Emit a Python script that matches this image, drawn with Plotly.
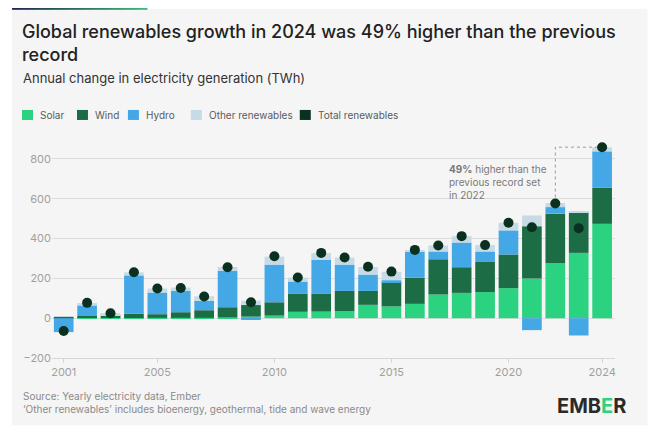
import plotly.graph_objects as go

# Annual change in electricity generation (TWh)
years = list(range(2001, 2025))
solar = [0, 1, 1, 1, 2, 2, 2, 5, 8, 13, 32, 33, 35, 67, 59, 72, 119, 127, 131, 151, 199, 276, 328, 474]
wind = [7, 13, 13, 22, 18, 28, 38, 50, 58, 67, 92, 89, 102, 70, 122, 131, 177, 129, 154, 169, 263, 249, 204, 182]
hydro = [-70, 50, 1, 192, 109, 107, 47, 182, -8, 189, 60, 172, 132, 82, 10, 132, 39, 124, 50, 121, -60, 33, -87, 182]
other = [0, 12, 10, 15, 20, 17, 23, 20, 22, 40, 20, 33, 35, 38, 42, 8, 30, 32, 33, 38, 54, 20, 5, 20]
total = [-64, 77, 25, 231, 149, 152, 109, 256, 80, 311, 204, 328, 305, 258, 234, 343, 365, 412, 367, 479, 457, 576, 452, 859]

y_ticks = [-200, 0, 200, 400, 600, 800]
x_ticks = [2001, 2005, 2010, 2015, 2020, 2024]

series = [
    ("Solar", solar, "#2bd27f"),
    ("Wind", wind, "#1c6c45"),
    ("Hydro", hydro, "#45a8e6"),
    ("Other renewables", other, "#c6dbe5"),
]
dot_color = "#0a3120"

# the page puts the figure 8px in from the corner, so work in page pixels and shift
OFF = 8
W, H = 657 - OFF, 436 - OFF
ML, MR, MT, MB = 52 - OFF, 41.5, 141 - OFF, 78.3
PW, PH = W - ML - MR, H - MT - MB


def px(x):
    return (x - OFF - ML) / PW


def py(y):
    return (H - MB - (y - OFF)) / PH


fig = go.Figure()

for name, vals, col in series:
    fig.add_trace(go.Bar(x=years, y=vals, name=name, marker=dict(color=col, line=dict(width=0))))

# dashed guide from the 2022 record up to the 2024 level
i22, i24 = years.index(2022), years.index(2024)
fig.add_trace(
    go.Scatter(
        x=[2022, 2022, 2024],
        y=[total[i22], total[i24], total[i24]],
        mode="lines",
        line=dict(color="#9a9a9a", width=1, dash="dot"),
        hoverinfo="skip",
    )
)

fig.add_trace(
    go.Scatter(
        x=years,
        y=total,
        mode="markers",
        name="Total renewables",
        marker=dict(color=dot_color, size=10),
    )
)

shapes = []
# grey card
shapes.append(dict(type="rect", xref="paper", yref="paper", x0=px(12), x1=px(648),
                   y0=py(425), y1=py(9), fillcolor="#f5f5f5", line=dict(width=0), layer="below"))
# thin gradient strip on top of the card
n = 24
c0, c1 = (0x1d, 0x2a, 0x4e), (0x3d, 0xb8, 0x76)
for k in range(n):
    t = k / (n - 1)
    r, g, b = [int(a + (bb - a) * t) for a, bb in zip(c0, c1)]
    x0 = 12 + (147 - 12) * k / n
    x1 = 12 + (147 - 12) * (k + 1) / n + 0.5
    shapes.append(dict(type="rect", xref="paper", yref="paper", x0=px(x0), x1=px(x1),
                       y0=py(10), y1=py(7), fillcolor=f"rgb({r},{g},{b})", line=dict(width=0)))

# custom legend
legend_items = [(s[0], s[2]) for s in series] + [("Total renewables", dot_color)]
legend_x = [22, 77, 128, 191, 300]
annotations = []
for (name, col), lx in zip(legend_items, legend_x):
    shapes.append(dict(type="rect", xref="paper", yref="paper", x0=px(lx), x1=px(lx + 11),
                       y0=py(120), y1=py(110), fillcolor=col, line=dict(width=0)))
    annotations.append(dict(text=name, xref="paper", yref="paper", x=px(lx + 16), y=py(115),
                            xanchor="left", yanchor="middle", showarrow=False,
                            font=dict(size=10, color="#5a5a5a")))

annotations += [
    dict(text="Global renewables growth in 2024 was 49% higher than the previous<br>record",
         xref="paper", yref="paper", x=px(20), y=py(19), xanchor="left", yanchor="top",
         align="left", showarrow=False,
         font=dict(size=18, color="#222222", family="Inter", weight=500)),
    dict(text="Annual change in electricity generation (TWh)",
         xref="paper", yref="paper", x=px(21), y=py(78), xanchor="left", yanchor="middle",
         showarrow=False, font=dict(size=13, color="#333333")),
    dict(text="Source: Yearly electricity data, Ember<br>\u2018Other renewables\u2019 includes bioenergy, geothermal, tide and wave energy",
         xref="paper", yref="paper", x=px(21), y=py(402), xanchor="left", yanchor="middle",
         align="left", showarrow=False, font=dict(size=10, color="#8a8a8a")),
    dict(text="<b>EMB<span style='color:#2bd27f'>E</span>R</b>",
         xref="paper", yref="paper", x=px(629), y=py(406), xanchor="right", yanchor="middle",
         showarrow=False, font=dict(size=20, color="#2a2a2a")),
    dict(text="<b>49%</b> higher than the<br>previous record set<br>in 2022",
         x=2021.75, y=790, xanchor="right", yanchor="top", align="left",
         showarrow=False, font=dict(size=10, color="#7a7a7a")),
]

fig.update_layout(
    width=W,
    height=H,
    margin=dict(l=ML, r=MR, t=MT, b=MB),
    paper_bgcolor="white",
    plot_bgcolor="rgba(0,0,0,0)",
    barmode="relative",
    bargap=0.16,
    showlegend=False,
    font=dict(family="Inter", color="#555555"),
    shapes=shapes,
    annotations=annotations,
    xaxis=dict(
        range=[2000.5, 2024.55],
        tickvals=x_ticks,
        showgrid=False,
        zeroline=False,
        showline=True,
        linecolor="#d6d6d6",
        ticks="outside",
        ticklen=4,
        tickcolor="#d6d6d6",
        tickfont=dict(size=11, color="#a0a0a0"),
    ),
    yaxis=dict(
        range=[-200, 890],
        tickvals=y_ticks,
        gridcolor="#dcdcdc",
        zeroline=False,
        showline=False,
        tickfont=dict(size=11, color="#a0a0a0"),
    ),
)

fig.write_html("out.html")
